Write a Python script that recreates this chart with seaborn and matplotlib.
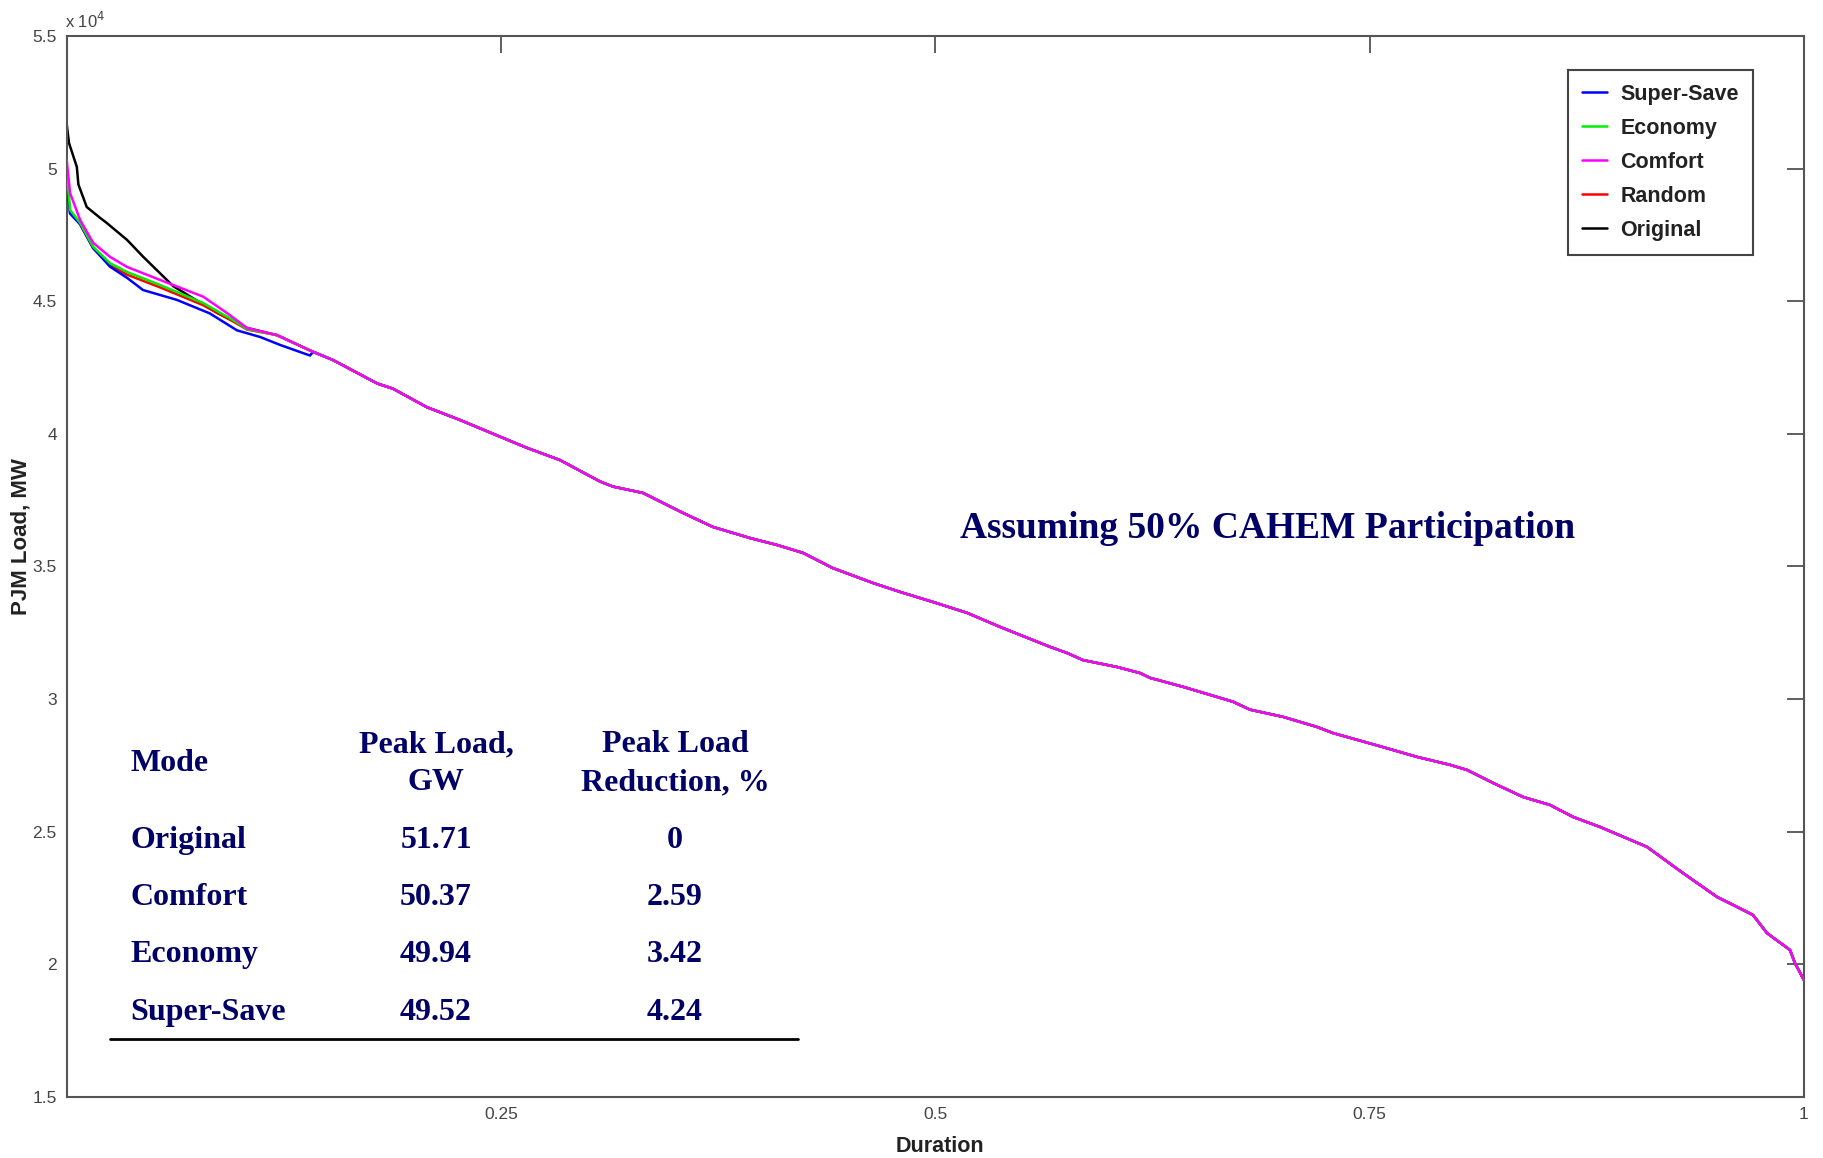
import matplotlib
matplotlib.use("Agg")
import matplotlib.pyplot as plt
import seaborn as sns
import pandas as pd
from matplotlib.ticker import FuncFormatter

# ---- data (load in units of 10^4 MW) ----
tail_x = [0.1211, 0.1419, 0.1534, 0.1787, 0.1879, 0.2075, 0.2265, 0.2455, 0.265, 0.284,
          0.3071, 0.3145, 0.3318, 0.3547, 0.372, 0.3934, 0.4089, 0.4239, 0.441, 0.464,
          0.4797, 0.4987, 0.5183, 0.5373, 0.566, 0.5758, 0.585, 0.6046, 0.6179, 0.6236,
          0.6427, 0.6714, 0.6812, 0.7002, 0.7197, 0.7289, 0.7577, 0.7773, 0.7963, 0.806,
          0.821, 0.8383, 0.8538, 0.867, 0.8826, 0.9096, 0.9304, 0.95, 0.9592, 0.9707,
          0.9787, 0.992, 0.9948, 1.0]
tail_y = [4.372, 4.309, 4.278, 4.19, 4.17, 4.10, 4.052, 4.00, 3.947, 3.901,
          3.820, 3.801, 3.777, 3.702, 3.649, 3.607, 3.581, 3.551, 3.494, 3.438,
          3.404, 3.366, 3.325, 3.272, 3.197, 3.174, 3.147, 3.121, 3.098, 3.08,
          3.046, 2.99, 2.96, 2.933, 2.895, 2.872, 2.819, 2.782, 2.752, 2.733,
          2.684, 2.631, 2.601, 2.556, 2.518, 2.443, 2.344, 2.254, 2.224, 2.186,
          2.118, 2.054, 2.005, 1.941]

original_x = [0, 0.0014, 0.0059, 0.0068, 0.0116, 0.0193, 0.0231, 0.0348, 0.044, 0.0613, 0.0866, 0.1039]
original_y = [5.171, 5.096, 5.006, 4.94, 4.855, 4.814, 4.795, 4.731, 4.668, 4.557, 4.456, 4.399]

comfort_x = [0, 0.002, 0.0078, 0.0153, 0.025, 0.0348, 0.0538, 0.0786, 0.0924, 0.1039]
comfort_y = [5.037, 4.908, 4.806, 4.72, 4.667, 4.629, 4.58, 4.517, 4.455, 4.399]

economy_x = [0, 0.002, 0.0078, 0.0153, 0.025, 0.0348, 0.0538, 0.0786, 0.0955, 0.1039]
economy_y = [4.994, 4.844, 4.795, 4.705, 4.643, 4.61, 4.561, 4.493, 4.43, 4.395]

random_x = [0, 0.002, 0.0078, 0.0153, 0.025, 0.0348, 0.0538, 0.0786, 0.0955, 0.1039]
random_y = [4.97, 4.835, 4.79, 4.70, 4.635, 4.60, 4.552, 4.485, 4.425, 4.393]

supersave_x = [0, 0.002, 0.0078, 0.0153, 0.025, 0.0348, 0.044, 0.0634, 0.0824, 0.0981, 0.1114, 0.1229, 0.1401]
supersave_y = [4.952, 4.83, 4.79, 4.70, 4.63, 4.588, 4.542, 4.505, 4.454, 4.39, 4.365, 4.335, 4.295]

table_modes = ["Original", "Comfort", "Economy", "Super-Save"]
table_peak = ["51.71", "50.37", "49.94", "49.52"]
table_red = ["0", "2.59", "3.42", "4.24"]

series = [
    ("Original", original_x, original_y, "#000000"),
    ("Random", random_x, random_y, "#ff0000"),
    ("Super-Save", supersave_x, supersave_y, "#0000ff"),
    ("Economy", economy_x, economy_y, "#00ee00"),
    ("Comfort", comfort_x, comfort_y, "#ff00ff"),
]
legend_order = ["Super-Save", "Economy", "Comfort", "Random", "Original"]

# ---- plot ----
sns.set_style("white")
plt.rcParams["font.family"] = ["Liberation Sans", "DejaVu Sans"]

fig = plt.figure(figsize=(18.24, 11.58), dpi=100)
ax = fig.add_axes([0.0365, 0.0527, 0.9525, 0.9163])

rows = []
for name, hx, hy, col in series:
    xs = list(hx) + [x for x in tail_x if x > hx[-1]]
    ys = list(hy) + [y for x, y in zip(tail_x, tail_y) if x > hx[-1]]
    for x, y in zip(xs, ys):
        rows.append({"Duration": x, "Load": y * 1e4, "Mode": name})
df = pd.DataFrame(rows)

for i, (name, hx, hy, col) in enumerate(series):
    sns.lineplot(data=df[df["Mode"] == name], x="Duration", y="Load", color=col,
                 linewidth=1.8, ax=ax, label=name, zorder=2 + i, estimator=None)

ax.set_xlim(0, 1)
ax.set_ylim(1.5e4, 5.5e4)
ax.set_xticks([0.25, 0.5, 0.75, 1.0])
ax.set_xticklabels(["0.25", "0.5", "0.75", "1"])
ax.set_yticks([1.5e4 + 0.5e4 * k for k in range(9)])
ax.yaxis.set_major_formatter(FuncFormatter(lambda v, p: f"{v/1e4:g}"))

ax.tick_params(direction="in", length=12, width=1.2, color="#444444",
               top=True, right=True, labelsize=12.5, labelcolor="#444444", pad=7)
for s in ax.spines.values():
    s.set_color("#555555")
    s.set_linewidth(1.5)
    s.set_visible(True)

ax.set_xlabel("Duration", fontsize=15.5, fontweight="bold", color="#222222")
ax.set_ylabel("PJM Load, MW", fontsize=16, fontweight="bold", color="#222222")
ax.xaxis.set_label_coords(0.5027, -0.037)
ax.yaxis.set_label_coords(-0.02, 0.528)
ax.text(-0.001, 1.005, r"x 10$^4$", transform=ax.transAxes, fontsize=12,
        color="#444444", ha="left", va="bottom")

handles, labels = ax.get_legend_handles_labels()
hmap = dict(zip(labels, handles))
leg = ax.legend([hmap[n] for n in legend_order], legend_order, loc="upper right",
                bbox_to_anchor=(0.9706, 0.968), borderaxespad=0, fancybox=False,
                edgecolor="#444444", framealpha=1, prop={"size": 15.5, "weight": "bold"},
                handlelength=1.2, handletextpad=0.6, labelspacing=0.6, borderpad=0.65)
leg.get_frame().set_linewidth(1.5)
for t in leg.get_texts():
    t.set_color("#222222")

navy = "#000066"
serif = ["Liberation Serif", "DejaVu Serif"]
ax.text((1268 - 66.5) / 1737.5, (1097 - 529) / 1061, "Assuming 50% CAHEM Participation",
        transform=ax.transAxes, fontsize=27, fontweight="bold", color=navy,
        family=serif, ha="center", va="center")

def fx(px):
    return (px - 66.5) / 1737.5

def fy(py):
    return (1097 - py) / 1061

tkw = dict(transform=ax.transAxes, fontsize=23, fontweight="bold", color=navy, family=serif, va="center")
ax.text(fx(130), fy(764), "Mode", ha="left", **tkw)
ax.text(fx(436), fy(745), "Peak Load,", ha="center", **tkw)
ax.text(fx(436), fy(783), "GW", ha="center", **tkw)
ax.text(fx(675), fy(745), "Peak Load", ha="center", **tkw)
ax.text(fx(675), fy(783), "Reduction, %", ha="center", **tkw)
row_y = [841, 898, 955, 1013]
for m, p, r, yy in zip(table_modes, table_peak, table_red, row_y):
    ax.text(fx(130), fy(yy), m, ha="left", **tkw)
    ax.text(fx(436), fy(yy), p, ha="center", **tkw)
    ax.text(fx(675), fy(yy), r, ha="center", **tkw)
ax.plot([fx(110), fx(798)], [fy(1039), fy(1039)], transform=ax.transAxes,
        color="black", linewidth=2, clip_on=False)

fig.savefig("out.png", dpi=100)
